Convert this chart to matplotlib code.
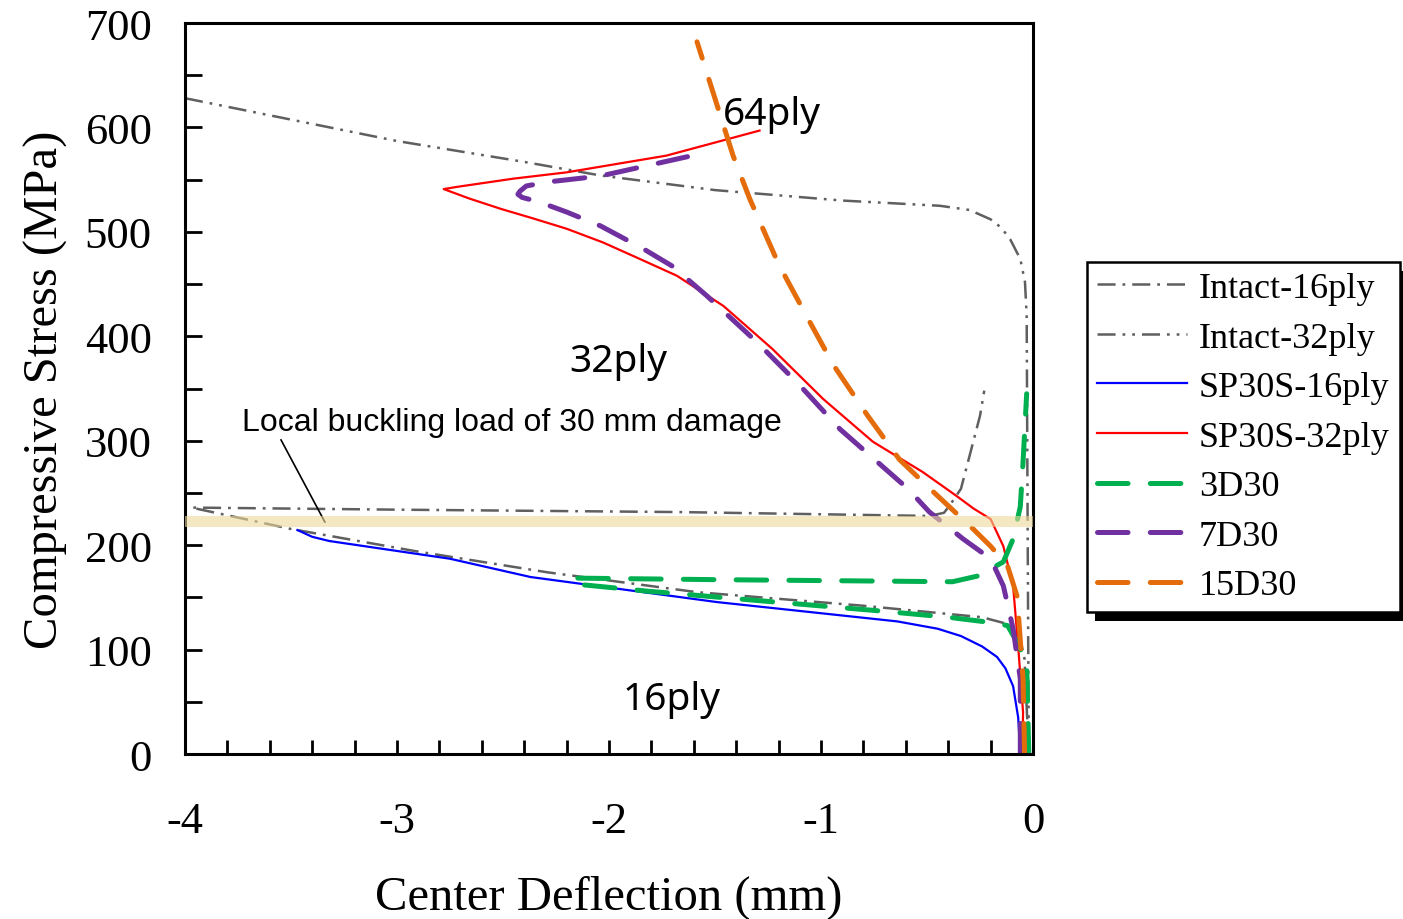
"""
Compressive stress vs. center deflection for intact and damaged laminates.
"""

import matplotlib
matplotlib.use("Agg")
import matplotlib.pyplot as plt
from matplotlib.patches import Rectangle
from matplotlib.ticker import MultipleLocator

# ---- data ----
intact16_x = [-0.02, -0.04, -0.06, -0.12, -0.24, -0.80, -1.585, -2.29, -2.92,
              -3.50, -3.97, -3.0, -1.665, -0.49, -0.42, -0.39, -0.34, -0.30,
              -0.25, -0.23]
intact16_y = [0, 91, 110, 124.5, 131, 142, 155, 174, 194.5,
              215.5, 236, 234, 231.7, 228, 231, 239, 254, 285,
              324, 348]

intact32_x = [-4.0, -3.0, -2.4, -2.04, -1.5, -0.9, -0.44, -0.30, -0.20, -0.15,
              -0.108, -0.06, -0.038, -0.03, -0.025, -0.02]
intact32_y = [628, 587, 567, 554, 540, 530, 525, 521, 512, 504,
              493, 474, 452, 420, 200, 0]

sp16_x = [-0.06, -0.07, -0.094, -0.13, -0.17, -0.24, -0.34, -0.45, -0.64,
          -1.49, -2.37, -2.75, -3.32, -3.40, -3.47]
sp16_y = [0, 35, 65, 82, 93, 103, 113, 120, 127,
          145.5, 169.5, 187, 204, 208, 214.5]

sp32_x = [-0.05, -0.047, -0.07, -0.094, -0.14, -0.20, -0.28, -0.36, -0.52,
          -0.755, -0.99, -1.23, -1.46, -1.68, -1.854, -2.03, -2.20, -2.36,
          -2.51, -2.66, -2.78, -2.72, -2.67, -2.45, -2.20, -1.73, -1.29]
sp32_y = [0, 40, 103, 161, 199, 225, 235, 247, 270,
          299, 340, 388, 429, 458, 474, 490, 503, 513,
          522, 532, 541, 543, 544.5, 551, 557, 573, 597]

d3_x = [-0.02, -0.03, -0.075, -0.12, -0.20, -0.40, -0.72, -1.27, -1.82, -2.12,
        -2.18, -1.5, -0.38, -0.26, -0.14, -0.094, -0.06, -0.047, -0.03]
d3_y = [0, 88, 107, 123, 126, 131, 137, 146.5, 156, 162,
        168.5, 167, 165, 170.5, 184, 206, 237, 280, 345]

d7_x = [-0.06, -0.06, -0.094, -0.14, -0.20, -0.33, -0.49, -0.59, -0.91, -1.10,
        -1.30, -1.54, -1.70, -1.84, -2.04, -2.20, -2.33, -2.41, -2.43, -2.42,
        -2.39, -2.28, -2.04, -1.63]
d7_y = [0, 72, 120, 161, 187, 206, 232, 254, 311, 353,
        394, 439, 467, 484, 505.7, 519, 528.7, 533, 536, 539,
        544, 548, 553.5, 572]

d15_x = [-0.04, -0.047, -0.075, -0.12, -0.20, -0.28, -0.47, -0.63, -0.78,
         -0.94, -1.07, -1.20, -1.335, -1.415, -1.585]
d15_y = [0, 72, 151, 180, 199, 215, 251, 282, 324,
         372, 420, 469, 531, 573, 682]

band_lo, band_hi = 217, 228

ply_labels = ["64ply", "32ply", "16ply"]
ply_pos = [(-1.23, 613), (-1.958, 376), (-1.703, 53)]

GRAY = "#5f5f5f"


def main():
    plt.rcParams["lines.scale_dashes"] = False
    plt.rcParams["axes.unicode_minus"] = False
    fig = plt.figure(figsize=(14.03, 9.2), dpi=100)
    ax = fig.add_axes([0.1319, 0.1793, 0.6044, 0.7946])

    ax.plot(intact16_x, intact16_y, color=GRAY, lw=1.8,
            dashes=(13, 5, 2, 5), label="Intact-16ply")
    ax.plot(intact32_x, intact32_y, color=GRAY, lw=1.8,
            dashes=(13, 5, 2, 5, 2, 5), label="Intact-32ply")
    ax.plot(sp16_x, sp16_y, color="#0000ff", lw=1.6, label="SP30S-16ply")
    ax.plot(sp32_x, sp32_y, color="#ff0000", lw=1.6, label="SP30S-32ply")

    dash_kw = dict(lw=3.6, dashes=(22, 16), dash_capstyle="round",
                   solid_joinstyle="round")
    ax.plot(d3_x, d3_y, color="#00b050", label="3D30", **dash_kw)
    ax.plot(d7_x, d7_y, color="#7030a0", label="7D30", **dash_kw)
    ax.plot(d15_x, d15_y, color="#e46c0a", label="15D30", **dash_kw)

    # local buckling band
    ax.axhspan(band_lo, band_hi, color="#ecd99a", alpha=0.6, lw=0, zorder=5)

    ax.annotate("Local buckling load of 30 mm damage", xy=(-3.34, 222),
                xytext=(-2.46, 318), ha="center", va="center",
                fontsize=23, family="Liberation Sans",
                arrowprops=dict(arrowstyle="-", color="black", lw=1.2,
                                shrinkA=0, shrinkB=0,
                                relpos=(0.07, 0.0)))
    for lab, (px, py) in zip(ply_labels, ply_pos):
        ax.text(px, py, lab, ha="center", va="center", fontsize=28,
                family="Noto Sans")

    ax.set_xlim(-4, 0)
    ax.set_ylim(0, 700)
    ax.xaxis.set_major_locator(MultipleLocator(1))
    ax.xaxis.set_minor_locator(MultipleLocator(0.2))
    ax.yaxis.set_major_locator(MultipleLocator(100))
    ax.yaxis.set_minor_locator(MultipleLocator(50))
    ax.tick_params(axis="both", which="both", direction="in", width=2,
                   top=False, right=False)
    ax.tick_params(axis="x", which="both", length=10, pad=34)
    ax.tick_params(axis="y", which="both", length=12, pad=24)
    for lbl in ax.get_xticklabels() + ax.get_yticklabels():
        lbl.set_family("Liberation Serif")
        lbl.set_fontsize(32)
    for sp in ax.spines.values():
        sp.set_linewidth(2.2)

    ax.set_xlabel("Center Deflection (mm)", family="Liberation Serif",
                  fontsize=35, labelpad=24)
    ax.set_ylabel("Compressive Stress (MPa)", family="Liberation Serif",
                  fontsize=35, labelpad=12)

    handles, labels = ax.get_legend_handles_labels()
    leg = fig.legend(handles, labels, loc="upper left",
                     bbox_to_anchor=(0.7748, 0.7141), borderaxespad=0,
                     prop=dict(family="Liberation Serif", size=26),
                     handlelength=2.5, handletextpad=0.33,
                     labelspacing=0.45, borderpad=0.27, fancybox=False,
                     framealpha=1, edgecolor="black")
    leg.get_frame().set_linewidth(1.8)

    # solid black drop shadow behind the legend
    fig.canvas.draw()
    bb = leg.get_window_extent().transformed(fig.transFigure.inverted())
    off_x, off_y = 8 / 1403, 9 / 920
    fig.patches.append(Rectangle((bb.x0 + off_x, bb.y0 - off_y), bb.width,
                                 bb.height, transform=fig.transFigure,
                                 facecolor="black", edgecolor="none",
                                 zorder=4))

    fig.savefig("out.png", dpi=100)


if __name__ == "__main__":
    main()
